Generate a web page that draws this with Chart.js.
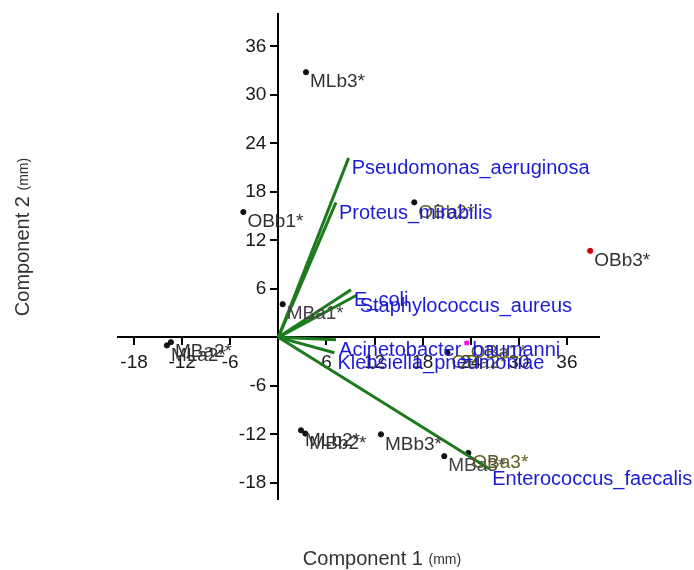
<!DOCTYPE html>
<html lang="en">
<head>
    <meta charset="UTF-8">
    <title>PCA Biplot</title>
    <script src="https://cdn.jsdelivr.net/npm/chart.js"></script>
    <style>
* {
    margin: 0;
    padding: 0;
    box-sizing: border-box;
}

body {
    background: #ffffff;
    width: 694px;
    height: 570px;
    overflow: hidden;
}

#wrap {
    position: relative;
    width: 694px;
    height: 570px;
}
    </style>
</head>
<body>
    <div id="wrap">
        <canvas id="biplot"></canvas>
    </div>

    <script>
        // sample scores (component 1, component 2)
        const sampleNames = ['MLb3*', 'OBb1*', 'OBb2*', 'OBb3*', 'MBa1*', 'MLa2*', 'MBa2*', 'MLb2*', 'MBb2*', 'MBb3*', 'MBa3*', 'OBa3*', 'OBa2*', 'OBa1*'];
        const sampleX = [3.45, -4.36, 16.96, 38.9, 0.54, -13.9, -13.4, 2.83, 3.37, 12.8, 20.7, 23.7, 21.1, 23.5];
        const sampleY = [32.8, 15.5, 16.7, 10.7, 4.1, -1.0, -0.6, -11.5, -11.9, -12.0, -14.7, -14.3, -1.9, -0.7];

        // bacteria loadings (arrow end points)
        const bacteria = ['Pseudomonas_aeruginosa', 'Proteus_mirabilis', 'E_coli', 'Staphylococcus_aureus', 'Acinetobacter_baumanni', 'Klebsiella_pneumoniae', 'Enterococcus_faecalis'];
        const loadX = [8.77, 7.19, 9.06, 9.77, 7.2, 7.0, 26.3];
        const loadY = [22.2, 16.7, 5.9, 5.2, -0.3, -1.9, -16.25];

        const xTicks = [-18, -12, -6, 6, 12, 18, 24, 30, 36];
        const yTicks = [-18, -12, -6, 6, 12, 18, 24, 30, 36];

        // look only
        const dotColors = ['#111', '#111', '#111', '#d40000', '#111', '#111', '#111', '#111', '#111', '#111', '#111', '#111', '#111', '#ff00ff'];
        const dotStyles = sampleNames.map((n, i) => i === 13 ? 'rect' : 'circle');
        const labelColors = ['#333', '#333', '#5f5f22', '#333', '#4d3d4d', '#333', '#333', '#333', '#333', '#333', '#444', '#5f5f22', '#5f5f22', '#5f5f22'];
        const FONT = '"Liberation Sans", Arial, sans-serif';

        const datasets = bacteria.map((name, i) => ({
            type: 'line',
            label: name,
            data: [{x: 0, y: 0}, {x: loadX[i], y: loadY[i]}],
            borderColor: '#1d7a1d',
            borderWidth: 3,
            pointRadius: 0,
            showLine: true,
            fill: false
        }));

        datasets.push({
            type: 'scatter',
            label: 'samples',
            data: sampleX.map((x, i) => ({x: x, y: sampleY[i]})),
            pointBackgroundColor: dotColors,
            pointBorderColor: dotColors,
            pointStyle: dotStyles,
            pointRadius: 2.6
        });

        const labelPlugin = {
            id: 'labels',
            beforeDraw(chart) {
                // y tick labels sit left of the centred axis
                const items = chart.scales.y.getLabelItems();
                if (!items._moved) {
                    items.forEach(it => { it.options.translation[0] -= 12; });
                    items._moved = true;
                }
            },
            afterDatasetsDraw(chart) {
                const c = chart.ctx;
                const xs = chart.scales.x, ys = chart.scales.y;
                c.save();
                c.textBaseline = 'middle';
                c.textAlign = 'left';
                c.font = '19px ' + FONT;
                sampleNames.forEach((name, i) => {
                    c.fillStyle = labelColors[i];
                    c.fillText(name, xs.getPixelForValue(sampleX[i]) + 4, ys.getPixelForValue(sampleY[i]) + 10);
                });
                c.font = '20px ' + FONT;
                c.fillStyle = '#1c1cd6';
                bacteria.forEach((name, i) => {
                    c.fillText(name, xs.getPixelForValue(loadX[i]) + 3, ys.getPixelForValue(loadY[i]) + 11);
                });

                // axis titles
                c.fillStyle = '#333';
                const t1 = 'Component 1 ';
                c.font = '20px ' + FONT;
                const w1 = c.measureText(t1).width;
                c.font = '14px ' + FONT;
                const w2 = c.measureText('(mm)').width;
                let x0 = 382 - (w1 + w2) / 2;
                c.font = '20px ' + FONT;
                c.fillText(t1, x0, 559);
                c.font = '14px ' + FONT;
                c.fillText('(mm)', x0 + w1, 560);

                c.translate(23, 237);
                c.rotate(-Math.PI / 2);
                const t2 = 'Component 2 ';
                c.font = '20px ' + FONT;
                const w3 = c.measureText(t2).width;
                x0 = -(w3 + w2) / 2;
                c.fillText(t2, x0, 0);
                c.font = '14px ' + FONT;
                c.fillText('(mm)', x0 + w3, 1);
                c.restore();
            }
        };

        function axisOpts(ticksList, pos) {
            return {
                type: 'linear',
                min: -20,
                max: 40,
                position: pos,
                afterBuildTicks: (scale) => { scale.ticks = ticksList.map(v => ({value: v})); },
                afterFit: (scale) => {
                    scale.width = 0;
                    scale.height = 0;
                    scale.paddingTop = 0;
                    scale.paddingBottom = 0;
                    scale.paddingLeft = 0;
                    scale.paddingRight = 0;
                },
                grid: { display: true, drawOnChartArea: false, drawTicks: true, tickLength: 7, color: '#000', lineWidth: 2 },
                border: { display: true, color: '#000', width: 2 },
                ticks: { color: '#1a1a1a', font: { size: 19, family: FONT }, padding: 7, autoSkip: false, maxRotation: 0 }
            };
        }

        const chart = new Chart(document.getElementById('biplot'), {
            type: 'scatter',
            data: { datasets: datasets },
            options: {
                responsive: true,
                maintainAspectRatio: false,
                animation: false,
                layout: { autoPadding: false, padding: { left: 118, right: 95, top: 14, bottom: 71 } },
                plugins: { legend: { display: false }, tooltip: { enabled: false } },
                scales: {
                    x: axisOpts(xTicks, { y: 0 }),
                    y: axisOpts(yTicks, { x: 0 })
                }
            },
            plugins: [labelPlugin]
        });
    </script>
</body>
</html>
